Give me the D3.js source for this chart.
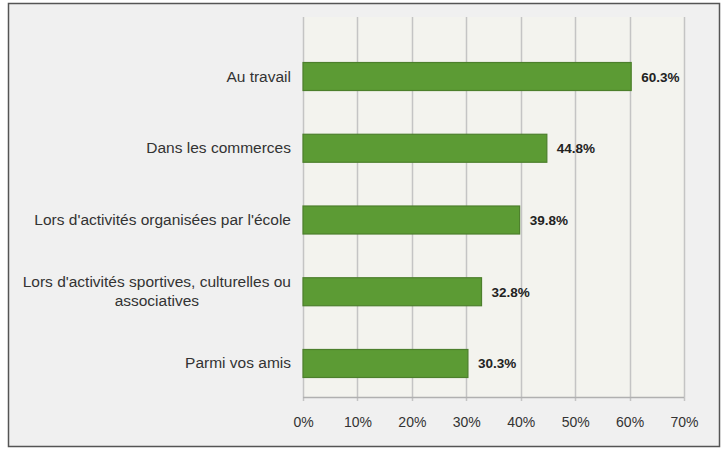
<!DOCTYPE html>
<html>
<head>
<meta charset="utf-8">
<script src="https://cdn.jsdelivr.net/npm/d3@7/dist/d3.min.js"></script>
<style>
  html, body { margin: 0; padding: 0; background: #ffffff; }
  svg { display: block; font-family: "Liberation Sans", Arial, sans-serif; }
</style>
</head>
<body>
<svg id="chart" width="728" height="452"></svg>
<script>
// Categories (top to bottom) and their shares in percent
const categories = [
  "Au travail",
  "Dans les commerces",
  "Lors d'activités organisées par l'école",
  "Lors d'activités sportives, culturelles ou associatives",
  "Parmi vos amis"
];
const values = [60.3, 44.8, 39.8, 32.8, 30.3];
const tickValues = [0, 10, 20, 30, 40, 50, 60, 70];

const svg = d3.select("#chart");
const frame = { x: 8, y: 3, w: 711, h: 443 };
const plot = { left: 303, right: 684, top: 17, bottom: 397 };

// Outer frame
svg.append("rect")
  .attr("x", frame.x + 0.5).attr("y", frame.y + 0.5)
  .attr("width", frame.w).attr("height", frame.h)
  .attr("fill", "#f0f0f0").attr("stroke", "#555").attr("stroke-width", 1.5);

// Plot background
svg.append("rect")
  .attr("x", plot.left).attr("y", plot.top)
  .attr("width", plot.right - plot.left).attr("height", plot.bottom - plot.top)
  .attr("fill", "#f3f3ee");

const x = d3.scaleLinear().domain([0, 70]).range([plot.left, plot.right]);
const y = d3.scaleBand().domain(categories).range([41, 399]).paddingInner(0.61).paddingOuter(0.3);

// Vertical gridlines
svg.append("g").selectAll("line").data(tickValues).join("line")
  .attr("x1", d => Math.round(x(d)) + 0.5).attr("x2", d => Math.round(x(d)) + 0.5)
  .attr("y1", plot.top).attr("y2", plot.bottom + 4)
  .attr("stroke", "#c4c4c4").attr("stroke-width", 1.5);

// Horizontal axis line
svg.append("line")
  .attr("x1", plot.left).attr("x2", plot.right)
  .attr("y1", plot.bottom + 0.5).attr("y2", plot.bottom + 0.5)
  .attr("stroke", "#b0b0b0").attr("stroke-width", 1.5);

// Tick labels
const xAxis = d3.axisBottom(x).tickValues(tickValues).tickFormat(d => d + "%").tickSize(0).tickPadding(0);
const gx = svg.append("g").attr("transform", `translate(0,${plot.bottom + 20})`).call(xAxis);
gx.select(".domain").remove();
gx.selectAll("text").attr("font-size", 14).attr("fill", "#333").attr("font-family", "Liberation Sans, Arial, sans-serif");

// Bars
const bh = 28;
svg.append("g").selectAll("rect").data(values).join("rect")
  .attr("x", x(0))
  .attr("y", (d, i) => y(categories[i]) + y.bandwidth() / 2 - bh / 2)
  .attr("width", d => x(d) - x(0))
  .attr("height", bh)
  .attr("fill", "#5c9b34")
  .attr("stroke", "#4c7f2c").attr("stroke-width", 1.2);

// Value labels
svg.append("g").selectAll("text").data(values).join("text")
  .attr("x", d => x(d) + 10)
  .attr("y", (d, i) => y(categories[i]) + y.bandwidth() / 2 + 5)
  .attr("font-size", 13.5).attr("font-weight", "bold").attr("fill", "#222")
  .text(d => d.toFixed(1) + "%");

// Category labels, wrapped when too long and centred line by line
const labelRight = 291;
const maxWidth = 280;
const fs = 15.5;
const gl = svg.append("g");
categories.forEach((c, i) => {
  const cy = y(c) + y.bandwidth() / 2;
  const t = gl.append("text").attr("font-size", fs).attr("fill", "#333");
  const words = c.split(" ");
  const lines = [];
  let cur = "";
  const probe = gl.append("text").attr("font-size", fs).attr("visibility", "hidden");
  words.forEach(w => {
    const test = cur ? cur + " " + w : w;
    probe.text(test);
    if (probe.node().getComputedTextLength() > maxWidth && cur) {
      lines.push(cur); cur = w;
    } else cur = test;
  });
  lines.push(cur);
  probe.text(lines[0]);
  const w0 = probe.node().getComputedTextLength();
  probe.remove();
  const lh = 19;
  const cx = labelRight - w0 / 2;
  lines.forEach((ln, k) => {
    t.append("tspan")
      .attr("x", lines.length > 1 ? cx : labelRight)
      .attr("text-anchor", lines.length > 1 ? "middle" : "end")
      .attr("y", cy + 5 + (k - (lines.length - 1) / 2) * lh)
      .text(ln);
  });
  if (lines.length === 1) t.attr("text-anchor", "end");
});
</script>
</body>
</html>
